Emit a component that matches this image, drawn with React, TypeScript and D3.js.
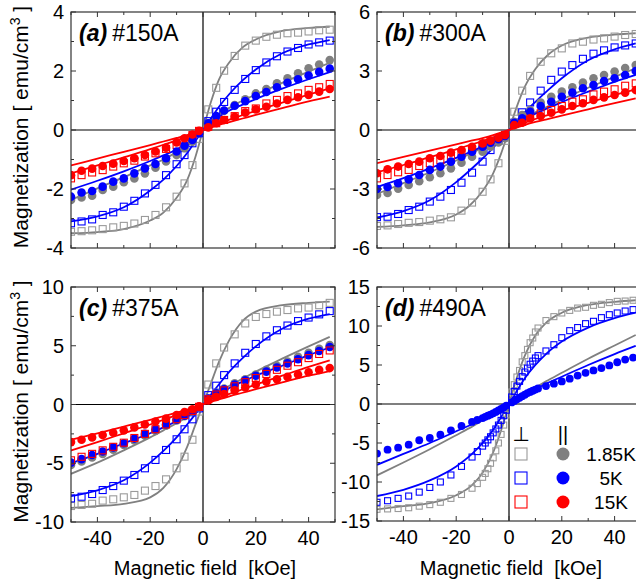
import React from 'react';
import * as d3 from 'd3';

// ---------------- data ----------------
// field values (kOe) shared by panels a, b, c
const fieldABC = [-50, -46, -42, -38, -34, -30, -26, -22, -18, -14, -10, -7, -4, -1.5, 2, 5, 8, 12, 16, 20, 24, 28, 32, 36, 40, 44, 48];
// field values for panel d
const fieldD = [-50, -46, -42, -38, -34, -30, -26, -22, -18, -14, -12, -10, -9, -8, -7, -6, -5, -4, -3, -2, -1, 1, 2, 3, 4, 5, 6, 7, 8, 9, 10, 11, 14, 17, 20, 23, 26, 29, 32, 35, 38, 41, 44, 47];
// field values of the fit curves
const fitX = [-50, -40, -30, -20, -15, -10, -6, -3, 0, 3, 6, 10, 15, 20, 30, 40, 48];
const fitXD = [-50, -40, -30, -20, -14, -10, -6, -3, 0, 3, 6, 10, 14, 20, 30, 40, 48];

// Panel (a) #150A
const perp185A = [-3.45, -3.43, -3.4, -3.36, -3.3, -3.25, -3.17, -3.05, -2.88, -2.62, -2.26, -1.81, -1.19, -0.3, 0.7, 1.43, 2.01, 2.51, 2.86, 3.03, 3.16, 3.23, 3.28, 3.3, 3.34, 3.38, 3.4];
const perp5A = [-3.16, -3.1, -3.03, -2.88, -2.79, -2.6, -2.4, -2.15, -1.86, -1.53, -1.16, -0.85, -0.45, -0.11, 0.3, 0.62, 0.95, 1.36, 1.73, 2.03, 2.29, 2.5, 2.66, 2.78, 2.9, 2.97, 3.03];
const perp15A = [-1.64, -1.53, -1.44, -1.36, -1.24, -1.13, -1.04, -0.9, -0.79, -0.64, -0.51, -0.34, -0.17, -0.03, 0.11, 0.23, 0.34, 0.47, 0.64, 0.73, 0.9, 1.02, 1.15, 1.24, 1.36, 1.45, 1.56];
const par185A = [-2.37, -2.29, -2.23, -2.03, -1.92, -1.77, -1.64, -1.47, -1.28, -1.07, -0.85, -0.62, -0.4, -0.11, 0.23, 0.45, 0.65, 0.85, 1.04, 1.24, 1.39, 1.58, 1.75, 1.92, 2.09, 2.22, 2.37];
const par5A = [-2.26, -2.12, -2.07, -1.92, -1.75, -1.64, -1.47, -1.3, -1.15, -0.96, -0.73, -0.53, -0.34, -0.11, 0.23, 0.47, 0.66, 0.82, 0.98, 1.15, 1.29, 1.45, 1.6, 1.72, 1.85, 1.97, 2.08];
const par15A = [-1.53, -1.38, -1.31, -1.22, -1.14, -1.05, -0.96, -0.85, -0.73, -0.6, -0.42, -0.28, -0.15, -0.03, 0.09, 0.23, 0.34, 0.45, 0.59, 0.7, 0.79, 0.9, 1.02, 1.11, 1.19, 1.3, 1.39];
const fitPerp185A = [-3.5, -3.46, -3.36, -3.07, -2.8, -2.3, -1.7, -0.95, 0, 0.95, 1.7, 2.3, 2.8, 3.07, 3.36, 3.46, 3.5];
const fitPerp5A = [-3.1, -2.93, -2.62, -2.05, -1.68, -1.22, -0.78, -0.39, 0, 0.39, 0.78, 1.22, 1.68, 2.05, 2.6, 2.9, 3.05];
const fitPar185A = [-2.37, -1.98, -1.6, -1.2, -1.0, -0.75, -0.52, -0.3, 0, 0.3, 0.52, 0.75, 1.0, 1.2, 1.6, 1.98, 2.28];
const fitPar5A = [-2.02, -1.72, -1.4, -1.05, -0.86, -0.66, -0.45, -0.25, 0, 0.25, 0.45, 0.66, 0.86, 1.05, 1.4, 1.72, 1.96];
const fitRedHiA = [-1.47, -1.2, -0.93, -0.65, -0.5, -0.35, -0.22, -0.11, 0, 0.11, 0.22, 0.35, 0.5, 0.65, 0.93, 1.2, 1.41];
const fitRedLoA = [-1.2, -0.97, -0.74, -0.51, -0.39, -0.27, -0.17, -0.085, 0, 0.085, 0.17, 0.27, 0.39, 0.51, 0.74, 0.97, 1.13];

// Panel (b) #300A
const perp185B = [-4.88, -4.85, -4.78, -4.72, -4.68, -4.61, -4.54, -4.44, -4.1, -3.69, -3.14, -2.51, -1.69, -0.55, 0.93, 2.0, 2.75, 3.47, 3.9, 4.15, 4.4, 4.49, 4.6, 4.66, 4.75, 4.83, 4.88];
const perp5B = [-4.43, -4.41, -4.27, -4.07, -3.9, -3.64, -3.39, -3.05, -2.68, -2.17, -1.61, -1.02, -0.51, -0.25, 0.37, 0.9, 1.4, 2.0, 2.55, 2.97, 3.3, 3.62, 3.88, 4.05, 4.2, 4.3, 4.4];
const perp15B = [-2.46, -2.29, -2.15, -2.03, -1.83, -1.69, -1.53, -1.36, -1.15, -0.98, -0.76, -0.59, -0.42, -0.25, 0.3, 0.42, 0.68, 0.85, 1.02, 1.22, 1.44, 1.56, 1.81, 1.95, 2.07, 2.25, 2.37];
const par185B = [-3.3, -3.2, -2.98, -2.8, -2.6, -2.4, -2.2, -1.95, -1.66, -1.36, -1.1, -0.85, -0.63, -0.42, 0.42, 0.76, 1.02, 1.39, 1.69, 1.95, 2.17, 2.41, 2.63, 2.8, 2.97, 3.15, 3.3];
const par5B = [-3.0, -2.9, -2.71, -2.51, -2.29, -2.03, -1.86, -1.61, -1.36, -1.1, -0.85, -0.64, -0.47, -0.3, 0.37, 0.59, 0.93, 1.22, 1.44, 1.69, 1.9, 2.12, 2.29, 2.49, 2.63, 2.8, 3.0];
const par15B = [-2.2, -2.0, -1.86, -1.73, -1.61, -1.44, -1.32, -1.15, -1.02, -0.85, -0.68, -0.54, -0.39, -0.25, 0.25, 0.37, 0.59, 0.71, 0.88, 1.05, 1.22, 1.36, 1.53, 1.66, 1.78, 1.9, 2.03];
const fitPerp185B = [-4.93, -4.85, -4.7, -4.3, -3.85, -3.1, -2.2, -1.2, 0, 1.2, 2.2, 3.1, 3.85, 4.3, 4.7, 4.85, 4.92];
const fitPerp5B = [-4.45, -4.12, -3.57, -2.65, -2.07, -1.45, -0.91, -0.46, 0, 0.46, 0.91, 1.43, 2.05, 2.63, 3.55, 4.1, 4.4];
const fitPar185B = [-3.25, -2.7, -2.15, -1.55, -1.22, -0.9, -0.6, -0.32, 0, 0.32, 0.6, 0.9, 1.22, 1.55, 2.15, 2.7, 3.14];
const fitPar5B = [-2.9, -2.45, -1.95, -1.42, -1.13, -0.83, -0.56, -0.3, 0, 0.3, 0.56, 0.83, 1.13, 1.42, 1.95, 2.45, 2.8];
const fitRedHiB = [-2.15, -1.78, -1.38, -0.98, -0.77, -0.56, -0.37, -0.19, 0, 0.19, 0.37, 0.56, 0.77, 0.98, 1.38, 1.78, 2.07];
const fitRedLoB = [-1.69, -1.37, -1.05, -0.73, -0.57, -0.41, -0.26, -0.13, 0, 0.13, 0.26, 0.41, 0.57, 0.73, 1.05, 1.37, 1.61];

// Panel (c) #375A
const perp185C = [-8.64, -8.55, -8.45, -8.18, -8.07, -7.9, -7.7, -7.33, -6.94, -6.37, -5.43, -4.44, -3.0, -0.6, 1.7, 3.5, 4.85, 5.97, 6.9, 7.45, 7.7, 7.9, 8.04, 8.18, 8.25, 8.45, 8.65];
const perp5C = [-7.99, -7.85, -7.62, -7.28, -6.94, -6.48, -6.0, -5.43, -4.72, -3.87, -2.96, -2.11, -1.26, -0.33, 0.8, 1.6, 2.5, 3.5, 4.4, 5.15, 5.8, 6.32, 6.72, 7.1, 7.4, 7.67, 7.95];
const perp15C = [-4.75, -4.45, -4.2, -3.9, -3.6, -3.25, -2.85, -2.5, -2.1, -1.7, -1.25, -0.9, -0.55, -0.2, 0.45, 0.85, 1.2, 1.55, 1.9, 2.25, 2.6, 2.95, 3.3, 3.6, 3.95, 4.3, 4.6];
const par185C = [-5.15, -4.85, -4.5, -4.2, -3.85, -3.45, -3.05, -2.65, -2.25, -1.8, -1.35, -1.0, -0.6, -0.25, 0.5, 1.0, 1.35, 1.8, 2.15, 2.55, 2.95, 3.3, 3.65, 4.05, 4.4, 4.75, 5.05];
const par5C = [-4.95, -4.65, -4.3, -4.0, -3.65, -3.3, -2.9, -2.5, -2.1, -1.7, -1.3, -0.95, -0.55, -0.2, 0.5, 0.95, 1.3, 1.7, 2.05, 2.45, 2.8, 3.15, 3.5, 3.85, 4.2, 4.55, 4.9];
const par15C = [-3.2, -3.0, -2.8, -2.6, -2.4, -2.2, -1.95, -1.7, -1.45, -1.2, -0.9, -0.65, -0.4, -0.15, 0.35, 0.65, 0.9, 1.2, 1.45, 1.7, 1.95, 2.15, 2.35, 2.55, 2.75, 2.95, 3.1];
const fitPerp185C = [-8.8, -8.65, -8.45, -7.9, -7.1, -5.5, -3.6, -1.8, 0, 1.8, 3.6, 5.5, 7.1, 7.9, 8.45, 8.65, 8.75];
const fitPerp5C = [-7.8, -7.3, -6.45, -4.95, -3.95, -2.8, -1.7, -0.85, 0, 0.85, 1.7, 2.8, 3.95, 4.95, 6.45, 7.3, 7.7];
const fitPar185C = [-5.9, -4.95, -3.9, -2.8, -2.2, -1.6, -1.05, -0.55, 0, 0.55, 1.05, 1.6, 2.2, 2.8, 3.9, 4.95, 5.75];
const fitPar5C = [-5.0, -4.2, -3.3, -2.45, -1.95, -1.4, -0.9, -0.47, 0, 0.47, 0.9, 1.4, 1.95, 2.45, 3.3, 4.2, 4.85];
const fitRedHiC = [-3.92, -3.2, -2.45, -1.7, -1.3, -0.9, -0.55, -0.28, 0, 0.28, 0.55, 0.9, 1.3, 1.7, 2.45, 3.2, 3.75];
const fitRedLoC = [-3.0, -2.45, -1.88, -1.3, -1.0, -0.7, -0.43, -0.22, 0, 0.22, 0.43, 0.7, 1.0, 1.3, 1.88, 2.45, 2.85];

// Panel (d) #490A
const perp185D = [-13.5, -13.45, -13.4, -13.3, -13.1, -12.9, -12.6, -12.1, -11.6, -10.8, -10.2, -9.4, -8.9, -8.3, -7.6, -6.9, -6.0, -5.0, -3.9, -2.7, -1.4, 1.54, 2.48, 3.46, 4.3, 5.4, 6.2, 7.0, 7.86, 8.46, 9.23, 9.74, 10.7, 11.2, 11.67, 12.0, 12.3, 12.4, 12.65, 12.78, 13.0, 13.16, 13.2, 13.3];
const perp5D = [-12.6, -12.4, -12.1, -11.8, -11.3, -10.7, -10.0, -9.1, -8.0, -6.8, -6.1, -5.4, -5.0, -4.6, -4.2, -3.7, -3.2, -2.7, -2.1, -1.5, -0.8, 0.9, 1.6, 2.3, 2.9, 3.5, 4.1, 4.6, 5.1, 5.5, 5.9, 6.2, 6.8, 7.6, 8.5, 9.4, 9.8, 10.3, 10.6, 11.07, 11.45, 11.67, 11.92, 12.1];
const par5D = [-6.36, -5.85, -5.6, -5.21, -4.65, -4.36, -3.93, -3.37, -2.82, -2.3, -2.05, -1.8, -1.65, -1.5, -1.35, -1.2, -1.02, -0.83, -0.63, -0.42, -0.21, 0.2, 0.4, 0.6, 0.8, 1.0, 1.2, 1.4, 1.55, 1.7, 1.85, 2.0, 2.3, 2.6, 2.9, 3.25, 3.65, 4.0, 4.3, 4.6, 4.95, 5.35, 5.7, 5.95];
const fitPerp185D = [-13.5, -13.1, -12.7, -11.7, -10.4, -8.8, -6.2, -3.4, 0, 3.4, 6.2, 8.8, 10.4, 11.7, 12.7, 13.1, 13.3];
const fitPerp5D = [-11.8, -11.0, -9.8, -8.0, -6.4, -5.0, -3.3, -1.7, 0, 1.7, 3.3, 5.0, 6.4, 8.0, 9.8, 11.0, 11.7];
const fitPar185D = [-9.15, -7.5, -5.8, -4.0, -2.9, -2.1, -1.3, -0.65, 0, 0.65, 1.3, 2.1, 2.9, 4.0, 5.8, 7.5, 8.85];
const fitPar5D = [-7.8, -6.4, -5.0, -3.5, -2.6, -1.9, -1.15, -0.6, 0, 0.6, 1.15, 1.9, 2.6, 3.5, 5.0, 6.4, 7.45];

// axis ticks
const xMajorTicks = [-40, -20, 0, 20, 40];
const xMinorTicks = [-50, -30, -10, 10, 30, 50];
const yTicksA = [-4, -2, 0, 2, 4];
const yTicksB = [-6, -3, 0, 3, 6];
const yTicksC = [-10, -5, 0, 5, 10];
const yTicksD = [-15, -10, -5, 0, 5, 10, 15];
const legendLabels = ['1.85K', '5K', '15K'];

// ---------------- styles ----------------
const GRAY_SQ = '#9a9a9a';
const GRAY = '#808080';
const BLUE = '#0000ff';
const RED = '#ff0000';
const FONT = 'Arial, "Liberation Sans", Helvetica, sans-serif';

type Pts = { kind: 'sq' | 'ci'; color: string; x: number[]; y: number[] };
type Fit = { color: string; x: number[]; y: number[] };
type Panel = {
  id: string; x0: number; y0: number; w: number; h: number;
  yMax: number; yTicks: number[]; tag: string; name: string; xLabels: boolean;
  fits: Fit[]; pts: Pts[]; sq: number; r: number;
};

const panels: Panel[] = [
  {
    id: 'a', x0: 71, y0: 12, w: 264, h: 236, yMax: 4, yTicks: yTicksA, tag: '(a)', name: '#150A', xLabels: false, sq: 7, r: 4.3,
    fits: [
      { color: GRAY, x: fitX, y: fitPerp185A }, { color: BLUE, x: fitX, y: fitPerp5A },
      { color: GRAY, x: fitX, y: fitPar185A }, { color: BLUE, x: fitX, y: fitPar5A },
      { color: RED, x: fitX, y: fitRedHiA }, { color: RED, x: fitX, y: fitRedLoA },
    ],
    pts: [
      { kind: 'sq', color: GRAY_SQ, x: fieldABC, y: perp185A }, { kind: 'sq', color: BLUE, x: fieldABC, y: perp5A },
      { kind: 'sq', color: RED, x: fieldABC, y: perp15A },
      { kind: 'ci', color: GRAY, x: fieldABC, y: par185A }, { kind: 'ci', color: BLUE, x: fieldABC, y: par5A },
      { kind: 'ci', color: RED, x: fieldABC, y: par15A },
    ],
  },
  {
    id: 'b', x0: 377, y0: 12, w: 264, h: 236, yMax: 6, yTicks: yTicksB, tag: '(b)', name: '#300A', xLabels: false, sq: 7, r: 4.3,
    fits: [
      { color: GRAY, x: fitX, y: fitPerp185B }, { color: BLUE, x: fitX, y: fitPerp5B },
      { color: GRAY, x: fitX, y: fitPar185B }, { color: BLUE, x: fitX, y: fitPar5B },
      { color: RED, x: fitX, y: fitRedHiB }, { color: RED, x: fitX, y: fitRedLoB },
    ],
    pts: [
      { kind: 'sq', color: GRAY_SQ, x: fieldABC, y: perp185B }, { kind: 'sq', color: BLUE, x: fieldABC, y: perp5B },
      { kind: 'sq', color: RED, x: fieldABC, y: perp15B },
      { kind: 'ci', color: GRAY, x: fieldABC, y: par185B }, { kind: 'ci', color: BLUE, x: fieldABC, y: par5B },
      { kind: 'ci', color: RED, x: fieldABC, y: par15B },
    ],
  },
  {
    id: 'c', x0: 71, y0: 287, w: 264, h: 235, yMax: 10, yTicks: yTicksC, tag: '(c)', name: '#375A', xLabels: true, sq: 7, r: 4.3,
    fits: [
      { color: GRAY, x: fitX, y: fitPerp185C }, { color: BLUE, x: fitX, y: fitPerp5C },
      { color: GRAY, x: fitX, y: fitPar185C }, { color: BLUE, x: fitX, y: fitPar5C },
      { color: RED, x: fitX, y: fitRedHiC }, { color: RED, x: fitX, y: fitRedLoC },
    ],
    pts: [
      { kind: 'sq', color: GRAY_SQ, x: fieldABC, y: perp185C }, { kind: 'sq', color: BLUE, x: fieldABC, y: perp5C },
      { kind: 'ci', color: GRAY, x: fieldABC, y: par185C }, { kind: 'ci', color: BLUE, x: fieldABC, y: par5C },
      { kind: 'sq', color: RED, x: fieldABC, y: perp15C },
      { kind: 'ci', color: RED, x: fieldABC, y: par15C },
    ],
  },
  {
    id: 'd', x0: 377, y0: 287, w: 264, h: 234, yMax: 15, yTicks: yTicksD, tag: '(d)', name: '#490A', xLabels: true, sq: 6, r: 3.9,
    fits: [
      { color: GRAY, x: fitXD, y: fitPerp185D }, { color: BLUE, x: fitXD, y: fitPerp5D },
      { color: GRAY, x: fitXD, y: fitPar185D }, { color: BLUE, x: fitXD, y: fitPar5D },
    ],
    pts: [
      { kind: 'sq', color: GRAY_SQ, x: fieldD, y: perp185D }, { kind: 'sq', color: BLUE, x: fieldD, y: perp5D },
      { kind: 'ci', color: BLUE, x: fieldD, y: par5D },
    ],
  },
];

function PanelView({ p }: { p: Panel }) {
  const xs = d3.scaleLinear().domain([-50, 50]).range([p.x0, p.x0 + p.w]);
  const ys = d3.scaleLinear().domain([-p.yMax, p.yMax]).range([p.y0 + p.h, p.y0]);
  const line = d3.line<[number, number]>().x(d => xs(d[0])).y(d => ys(d[1])).curve(d3.curveMonotoneX);
  const step = p.yTicks[1] - p.yTicks[0];
  const yMinor = p.yTicks.slice(0, -1).map(t => t + step / 2);
  const x1 = p.x0 + p.w, y1 = p.y0 + p.h;
  const clipId = `clip-${p.id}`;
  return (
    <g>
      <defs>
        <clipPath id={clipId}><rect x={p.x0} y={p.y0} width={p.w} height={p.h} /></clipPath>
      </defs>
      {/* zero lines */}
      <line x1={p.x0} x2={x1} y1={ys(0)} y2={ys(0)} stroke="#000" strokeWidth={1.2} />
      <line x1={xs(0)} x2={xs(0)} y1={p.y0} y2={y1} stroke="#000" strokeWidth={1.2} />
      <g clipPath={`url(#${clipId})`}>
        {p.fits.map((f, i) => (
          <path key={i} d={line(f.x.map((v, j) => [v, f.y[j]] as [number, number])) || ''} fill="none" stroke={f.color} strokeWidth={1.8} />
        ))}
        {p.pts.map((s, i) => (
          <g key={i}>
            {s.x.map((v, j) => s.kind === 'sq' ? (
              <rect key={j} x={xs(v) - p.sq / 2} y={ys(s.y[j]) - p.sq / 2} width={p.sq} height={p.sq} fill="none" stroke={s.color} strokeWidth={1.1} />
            ) : (
              <circle key={j} cx={xs(v)} cy={ys(s.y[j])} r={p.r} fill={s.color} />
            ))}
          </g>
        ))}
      </g>
      {/* frame */}
      <rect x={p.x0} y={p.y0} width={p.w} height={p.h} fill="none" stroke="#333" strokeWidth={1.2} />
      {/* x ticks */}
      {[...xMajorTicks.map(t => [t, 5]), ...xMinorTicks.map(t => [t, 3])].map(([t, len], i) => (
        <g key={`xt${i}`}>
          <line x1={xs(t)} x2={xs(t)} y1={y1} y2={y1 - len} stroke="#333" strokeWidth={1} />
          <line x1={xs(t)} x2={xs(t)} y1={p.y0} y2={p.y0 + len} stroke="#333" strokeWidth={1} />
        </g>
      ))}
      {/* y ticks */}
      {[...p.yTicks.map(t => [t, 5]), ...yMinor.map(t => [t, 3])].map(([t, len], i) => (
        <g key={`yt${i}`}>
          <line x1={p.x0} x2={p.x0 + len} y1={ys(t)} y2={ys(t)} stroke="#333" strokeWidth={1} />
          <line x1={x1} x2={x1 - len} y1={ys(t)} y2={ys(t)} stroke="#333" strokeWidth={1} />
        </g>
      ))}
      {p.yTicks.map(t => (
        <text key={`yl${t}`} x={p.x0 - 7} y={ys(t)} dy="0.36em" textAnchor="end" fontSize={20} fontFamily={FONT}>{t}</text>
      ))}
      {p.xLabels && xMajorTicks.map(t => (
        <text key={`xl${t}`} x={xs(t)} y={y1 + 23} textAnchor="middle" fontSize={20} fontFamily={FONT}>{t}</text>
      ))}
      <text x={p.x0 + 8} y={p.y0 + 29} fontSize={23} fontFamily={FONT}>
        <tspan fontWeight="bold" fontStyle="italic">{p.tag}</tspan>
        <tspan dx={5}>{p.name}</tspan>
      </text>
    </g>
  );
}

export default function App() {
  const W = 636, H = 581;
  const pc = panels[2];
  const pd = panels[3];
  // legend
  const lx0 = 521, lx1 = 563, ly = [454, 478, 502];
  const legendColors = [[GRAY_SQ, GRAY], [BLUE, BLUE], [RED, RED]];
  return (
    <svg width={W} height={H} style={{ position: 'absolute', left: 0, top: 0, background: '#fff' }}>
      <rect x={0} y={0} width={W} height={H} fill="#fff" />
      {panels.map(p => <PanelView key={p.id} p={p} />)}
      {/* y titles */}
      {[panels[0], panels[2]].map(p => (
        <text key={`yt-${p.id}`} transform={`translate(28,${p.y0 + p.h / 2 - 3}) rotate(-90)`} textAnchor="middle" fontSize={21} fontFamily={FONT}>
          Magnetization [ emu/cm<tspan dy={-8} fontSize={14}>3</tspan><tspan dy={8}> ]</tspan>
        </text>
      ))}
      {/* x titles */}
      {[pc, pd].map(p => (
        <text key={`xt-${p.id}`} x={p.x0 + p.w / 2 + 2} y={575} textAnchor="middle" fontSize={20} fontFamily={FONT} xmlSpace="preserve">
          Magnetic field  [kOe]
        </text>
      ))}
      {/* legend */}
      <text x={lx0} y={441} textAnchor="middle" fontSize={20} fontFamily='"DejaVu Sans", sans-serif'>⊥</text>
      <text x={lx1} y={441} textAnchor="middle" fontSize={20} fontFamily={FONT}>||</text>
      {legendLabels.map((lab, i) => (
        <g key={lab}>
          <rect x={lx0 - 6} y={ly[i] - 6} width={12} height={12} fill="none" stroke={legendColors[i][0]} strokeWidth={1.1} />
          <circle cx={lx1} cy={ly[i]} r={6.5} fill={legendColors[i][1]} />
          <text x={611} y={ly[i] + 7} textAnchor="middle" fontSize={19} fontFamily={FONT}>{lab}</text>
        </g>
      ))}
    </svg>
  );
}
